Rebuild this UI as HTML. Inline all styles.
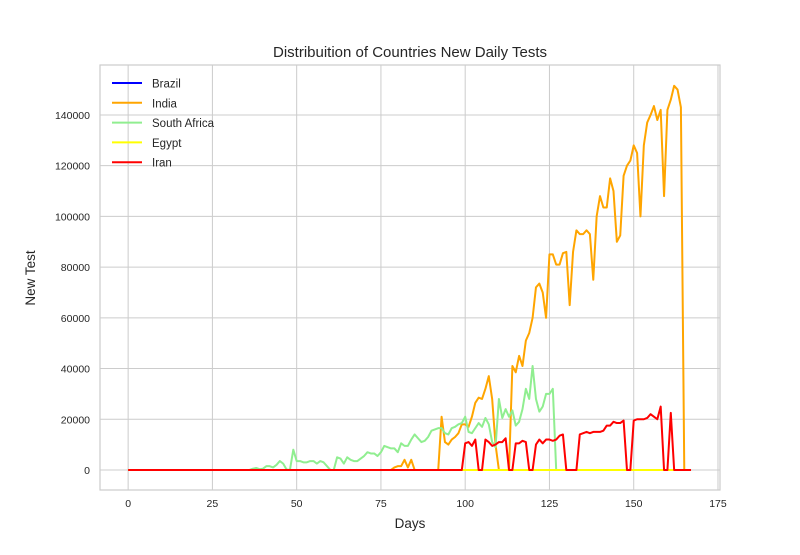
<!DOCTYPE html>
<html><head><meta charset="utf-8"><style>
body{margin:0;background:#fff;}
svg text{font-family:"Liberation Sans","DejaVu Sans",sans-serif;fill:#262626;}
</style></head><body>
<svg id="chart" width="800" height="550" xmlns="http://www.w3.org/2000/svg"></svg>
<script>
const xTicks=[0,25,50,75,100,125,150,175];
const yTicks=[0,20000,40000,60000,80000,100000,120000,140000];
const seriesNames=["Brazil","India","South Africa","Egypt","Iran"];
const seriesColors=["#0000ff","#ffa500","#90ee90","#ffff00","#ff0000"];
const nDays=168;
const indiaPoints=[[79,1000],[80,1500],[81,1500],[82,4000],[83,1000],[84,4000],[85,0],
[93,21000],[94,11000],[95,10000],[96,12000],[97,13000],[98,14500],[99,18000],[100,18000],[101,17000],[102,21000],[103,26500],[104,28500],[105,28000],[106,32000],[107,37000],[108,28000],[109,10000],[110,0],
[114,41000],[115,38500],[116,45000],[117,41000],[118,51000],[119,54000],[120,60000],[121,72000],[122,73500],[123,70000],[124,60000],[125,85000],[126,85000],[127,81000],[128,81000],[129,85500],[130,86000],[131,65000],[132,86000],[133,94500],[134,93000],[135,93000],[136,94500],[137,93000],[138,75000],[139,100000],[140,108000],[141,103500],[142,103500],[143,115000],[144,110000],[145,90000],[146,92500],[147,116000],[148,120000],[149,122000],[150,128000],[151,125000],[152,100000],[153,128000],[154,137000],[155,140000],[156,143500],[157,138000],[158,142000],[159,108000],[160,142000],[161,146000],[162,151500],[163,150000],[164,143000],[165,0]];
const saPoints=[[37,500],[38,800],[39,300],[40,500],[41,1500],[42,1500],[43,1000],[44,2000],[45,3500],[46,2500],[47,200],[48,0],[49,8000],[50,3500],[51,3500],[52,3000],[53,3000],[54,3500],[55,3500],[56,2500],[57,3500],[58,3000],[59,1500],[60,0],[61,0],[62,5000],[63,4500],[64,2500],[65,5000],[66,4000],[67,3500],[68,3500],[69,4500],[70,5500],[71,7000],[72,6500],[73,6500],[74,5500],[75,7000],[76,9500],[77,9000],[78,8500],[79,8500],[80,7000],[81,10500],[82,9500],[83,9500],[84,12000],[85,14000],[86,12500],[87,11000],[88,11500],[89,13000],[90,15500],[91,16000],[92,16500],[93,16500],[94,14500],[95,14000],[96,16500],[97,17000],[98,18000],[99,18500],[100,21000],[101,15000],[102,14500],[103,16500],[104,18500],[105,17000],[106,20500],[107,18000],[108,11000],[109,9000],[110,28000],[111,20500],[112,24000],[113,21000],[114,23500],[115,17500],[116,19000],[117,24000],[118,32000],[119,28000],[120,41000],[121,28000],[122,23000],[123,25000],[124,30000],[125,30000],[126,32000],[127,0]];
const iranPoints=[[100,10500],[101,11000],[102,9500],[103,12000],[104,0],[105,0],[106,12000],[107,11000],[108,9500],[109,10000],[110,11000],[111,11000],[112,12500],[113,0],[114,0],[115,10500],[116,10500],[117,11500],[118,11000],[119,0],[120,0],[121,10000],[122,12000],[123,10500],[124,12000],[125,12000],[126,11500],[127,12000],[128,13500],[129,14000],[130,0],[131,0],[132,0],[133,0],[134,14000],[135,14500],[136,15000],[137,14500],[138,15000],[139,15000],[140,15000],[141,15500],[142,17500],[143,17500],[144,19000],[145,18500],[146,18500],[147,19500],[148,0],[149,0],[150,19500],[151,20000],[152,20000],[153,20000],[154,20500],[155,22000],[156,21000],[157,20000],[158,25000],[159,0],[160,0],[161,22500],[162,0]];
const NS="http://www.w3.org/2000/svg";
const svg=document.getElementById('chart');
const L=100,R=720,T=65,B=490;
const xMin=-8.35,xMax=175.6,yMin=-7900,yMax=159700;
function xs(v){return L+(v-xMin)/(xMax-xMin)*(R-L);}
function ys(v){return B-(v-yMin)/(yMax-yMin)*(B-T);}
function mk(tag,attrs,parent){const e=document.createElementNS(NS,tag);for(const k in attrs)e.setAttribute(k,attrs[k]);(parent||svg).appendChild(e);return e;}
function expand(pts){const a=new Array(nDays).fill(0);pts.forEach(p=>{a[p[0]]=p[1];});return a;}
const brazil=new Array(nDays).fill(0);
const egypt=new Array(nDays).fill(0);
const data=[brazil,expand(indiaPoints),expand(saPoints),egypt,expand(iranPoints)];
xTicks.forEach(t=>{const l=mk('line',{x1:xs(t),x2:xs(t),y1:T,y2:B,stroke:'#cccccc','stroke-width':1});


const tx=mk('text',{x:xs(t),y:B+17,'text-anchor':'middle','font-size':'10.5'});tx.textContent=t;

});
yTicks.forEach(t=>{const l=mk('line',{x1:L,x2:R,y1:ys(t),y2:ys(t),stroke:'#cccccc','stroke-width':1});


const tx=mk('text',{x:L-10,y:ys(t)+4,'text-anchor':'end','font-size':'10.5'});tx.textContent=t;

});
const fr=mk('rect',{x:L,y:T,width:R-L,height:B-T,fill:'none',stroke:'#cccccc','stroke-width':1.2});


data.forEach((arr,i)=>{const d=arr.map((v,k)=>(k?'L':'M')+xs(k).toFixed(2)+','+ys(v).toFixed(2)).join('');
const p=mk('path',{d:d,fill:'none',stroke:seriesColors[i],'stroke-width':2,'stroke-linejoin':'round'});

});
seriesNames.forEach((n,i)=>{const y=83+i*19.8;
const l=mk('line',{x1:112,x2:142,y1:y,y2:y,stroke:seriesColors[i],'stroke-width':2});


const t=mk('text',{x:152,y:y+4.5,'font-size':'11.5'});t.textContent=n;

});
const title=mk('text',{x:410,y:57,'text-anchor':'middle','font-size':'15'});title.textContent='Distribuition of Countries New Daily Tests';


const xl=mk('text',{x:410,y:528,'text-anchor':'middle','font-size':'13.5'});xl.textContent='Days';


const yl=mk('text',{x:0,y:0,'text-anchor':'middle','font-size':'13.5',transform:'translate(35,278) rotate(-90)'});yl.textContent='New Test';


</script>
</body></html>
